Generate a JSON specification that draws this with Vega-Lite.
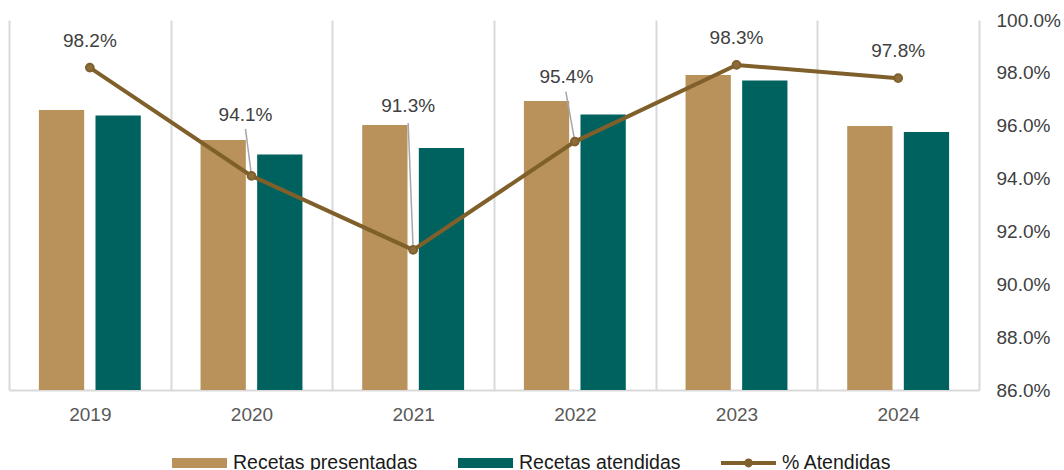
{
  "$schema": "https://vega.github.io/schema/vega-lite/v6.json",
  "width": 970,
  "height": 370,
  "autosize": {"type": "none"},
  "padding": {"left": 9, "top": 20, "right": 85, "bottom": 80},
  "config": {
    "font": "Liberation Sans",
    "view": {"stroke": null},
    "text": {"font": "Liberation Sans"}
  },
  "data": {
    "values": [
      {"year": "2019", "Recetas presentadas": 280, "Recetas atendidas": 274.5, "pct": 0.982},
      {"year": "2020", "Recetas presentadas": 250, "Recetas atendidas": 235.5, "pct": 0.941},
      {"year": "2021", "Recetas presentadas": 265, "Recetas atendidas": 242, "pct": 0.913},
      {"year": "2022", "Recetas presentadas": 289, "Recetas atendidas": 275.5, "pct": 0.954},
      {"year": "2023", "Recetas presentadas": 315, "Recetas atendidas": 309.5, "pct": 0.983},
      {"year": "2024", "Recetas presentadas": 264, "Recetas atendidas": 258, "pct": 0.978}
    ]
  },
  "encoding": {
    "x": {
      "field": "year",
      "type": "nominal",
      "scale": {"paddingInner": 0, "paddingOuter": 0},
      "axis": {
        "title": null,
        "labelAngle": 0,
        "domainColor": "#d9d9d9",
        "domainWidth": 2,
        "ticks": false,
        "grid": true,
        "gridColor": "#d9d9d9",
        "gridWidth": 2,
        "tickBand": "extent",
        "labelFontSize": 19,
        "labelColor": "#595959",
        "labelPadding": 15
      }
    }
  },
  "layer": [
    {
      "transform": [{"fold": ["Recetas presentadas", "Recetas atendidas"], "as": ["key", "value"]}],
      "mark": {"type": "bar"},
      "encoding": {
        "xOffset": {
          "field": "key",
          "type": "nominal",
          "sort": ["Recetas presentadas", "Recetas atendidas"],
          "scale": {"paddingInner": 0.2, "paddingOuter": 0.528}
        },
        "y": {
          "field": "value",
          "type": "quantitative",
          "scale": {"domain": [0, 370], "nice": false},
          "axis": null
        },
        "color": {
          "field": "key",
          "type": "nominal",
          "scale": {
            "domain": ["Recetas presentadas", "Recetas atendidas", "% Atendidas"],
            "range": ["#B8925A", "#00625F", "#7F5F2A"]
          },
          "legend": {
            "title": null,
            "orient": "none",
            "direction": "horizontal",
            "legendX": 163,
            "legendY": 415.5,
            "symbolSize": 3025,
            "labelFontSize": 19.5,
            "labelColor": "#1a1a1a",
            "labelOffset": 6,
            "labelLimit": 400,
            "columnPadding": 40,
            "encode": {
              "symbols": {
                "update": {
                  "shape": {"signal": "datum.value === '% Atendidas' ? 'M-1,-0.075H1V0.075H-1Z M-0.16,0A0.16,0.16 0 1,1 0.16,0A0.16,0.16 0 1,1 -0.16,0Z' : 'M-1,-0.18H1V0.18H-1Z'"},
                  "fill": {"signal": "scale('color', datum.value)"},
                  "strokeWidth": {"value": 0}
                }
              }
            }
          }
        }
      }
    },
    {
      "encoding": {
        "y": {
          "field": "pct",
          "type": "quantitative",
          "scale": {"domain": [0.86, 1.0], "nice": false, "zero": false},
          "axis": {
            "orient": "right",
            "title": null,
            "domain": false,
            "ticks": false,
            "grid": false,
            "values": [0.86, 0.88, 0.9, 0.92, 0.94, 0.96, 0.98, 1.0],
            "format": ".1%",
            "labelFontSize": 19,
            "labelColor": "#404040",
            "labelPadding": 17
          }
        }
      },
      "layer": [
        {
          "transform": [{"filter": {"field": "year", "equal": "2020"}}],
          "mark": {"type": "rule", "color": "#a6a6a6", "strokeWidth": 1.5, "y2Offset": -47, "x2Offset": -6},
          "encoding": {"y2": {"field": "pct"}, "x2": {"field": "year", "bandPosition": 0.5}}
        },
        {
          "transform": [{"filter": {"field": "year", "equal": "2021"}}],
          "mark": {"type": "rule", "color": "#a6a6a6", "strokeWidth": 1.5, "y2Offset": -127, "x2Offset": -5},
          "encoding": {"y2": {"field": "pct"}, "x2": {"field": "year", "bandPosition": 0.5}}
        },
        {
          "transform": [{"filter": {"field": "year", "equal": "2022"}}],
          "mark": {"type": "rule", "color": "#a6a6a6", "strokeWidth": 1.5, "y2Offset": -50, "x2Offset": -9},
          "encoding": {"y2": {"field": "pct"}, "x2": {"field": "year", "bandPosition": 0.5}}
        },
        {
          "mark": {"type": "line", "strokeWidth": 4},
          "encoding": {"color": {"datum": "% Atendidas", "type": "nominal"}}
        },
        {
          "mark": {"type": "point", "filled": true, "size": 60, "fill": "#8d6d3b", "stroke": "#7F5F2A", "strokeWidth": 2, "opacity": 1},
          "encoding": {}
        },
        {
          "transform": [{"filter": {"field": "year", "oneOf": ["2019", "2023", "2024"]}}],
          "mark": {"type": "text", "fontSize": 19, "color": "#404040", "baseline": "middle", "dy": -27},
          "encoding": {"text": {"field": "pct", "type": "quantitative", "format": ".1%"}}
        },
        {
          "transform": [{"filter": {"field": "year", "equal": "2020"}}],
          "mark": {"type": "text", "fontSize": 19, "color": "#404040", "baseline": "middle", "dy": -61, "dx": -6},
          "encoding": {"text": {"field": "pct", "type": "quantitative", "format": ".1%"}}
        },
        {
          "transform": [{"filter": {"field": "year", "equal": "2021"}}],
          "mark": {"type": "text", "fontSize": 19, "color": "#404040", "baseline": "middle", "dy": -144, "dx": -5},
          "encoding": {"text": {"field": "pct", "type": "quantitative", "format": ".1%"}}
        },
        {
          "transform": [{"filter": {"field": "year", "equal": "2022"}}],
          "mark": {"type": "text", "fontSize": 19, "color": "#404040", "baseline": "middle", "dy": -64.5, "dx": -8.5},
          "encoding": {"text": {"field": "pct", "type": "quantitative", "format": ".1%"}}
        }
      ]
    }
  ],
  "resolve": {"scale": {"y": "independent"}}
}
